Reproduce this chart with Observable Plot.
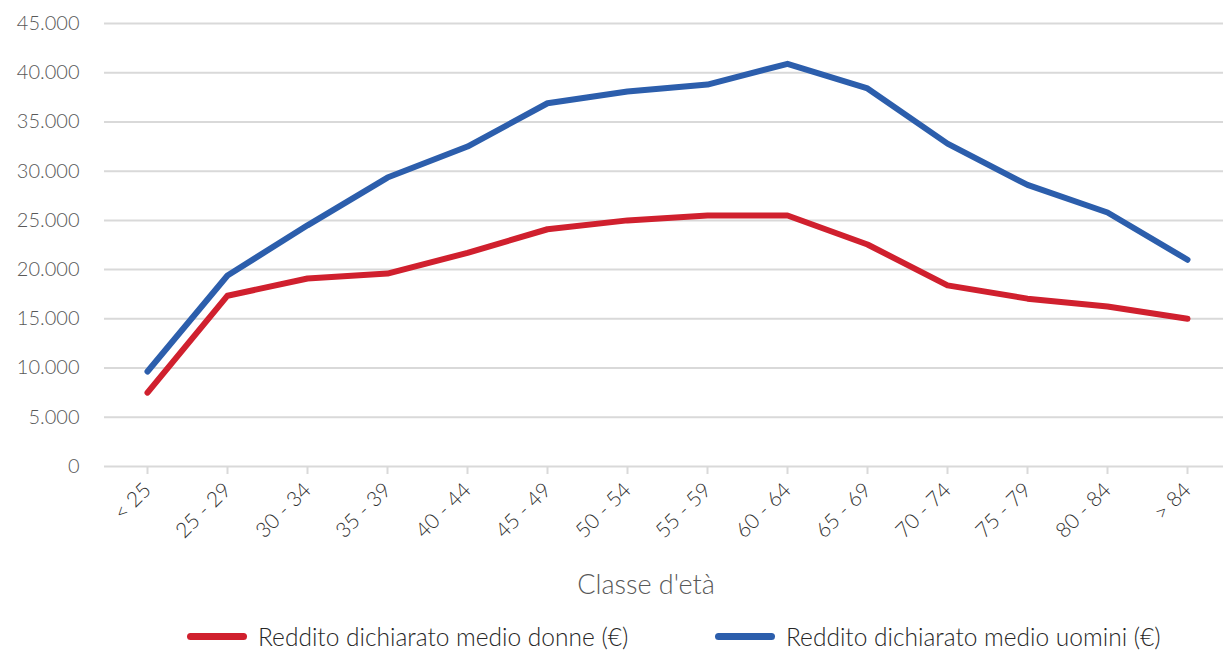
<!DOCTYPE html>
<html>
<head>
<meta charset="utf-8">
<script src="https://cdn.jsdelivr.net/npm/d3@7"></script>
<script src="https://cdn.jsdelivr.net/npm/@observablehq/plot@0.6"></script>
<style>
  html, body { margin: 0; padding: 0; background: #fff; }
  body { font-family: "Source Sans Pro", Lato, "Open Sans", sans-serif; font-weight: 300; }
  #wrap { position: relative; width: 1223px; height: 654px; overflow: hidden; }
  #legend { position: relative; height: 36px; }
  .item { position: absolute; top: 0; display: flex; align-items: center; height: 36px; font-size: 24.5px; color: #262626; }
  .sw { display: inline-block; width: 60px; height: 7px; border-radius: 4px; margin-right: 11px; }
</style>
</head>
<body>
<div id="wrap">
  <div id="chart"></div>
  <div id="legend"></div>
</div>
<script>
const ages = ["< 25", "25 - 29", "30 - 34", "35 - 39", "40 - 44", "45 - 49", "50 - 54", "55 - 59", "60 - 64", "65 - 69", "70 - 74", "75 - 79", "80 - 84", "> 84"];
const donne = [7500, 17350, 19100, 19600, 21700, 24100, 25000, 25500, 25500, 22550, 18400, 17050, 16250, 15000];
const uomini = [9650, 19400, 24500, 29350, 32500, 36900, 38100, 38800, 40900, 38400, 32800, 28600, 25800, 21000];
const yTicks = [0, 5000, 10000, 15000, 20000, 25000, 30000, 35000, 40000, 45000];
const seriesNames = ["Reddito dichiarato medio donne (€)", "Reddito dichiarato medio uomini (€)"];
const seriesColors = ["#d0202e", "#2c5eac"];
const xTitle = "Classe d'età";

const it = d3.formatLocale({decimal: ",", thousands: ".", grouping: [3], currency: ["€", ""]});
const fmt = it.format(",");

const rows = [];
ages.forEach((a, i) => {
  rows.push({age: a, value: donne[i], serie: seriesNames[0]});
  rows.push({age: a, value: uomini[i], serie: seriesNames[1]});
});

const font = '"Source Sans Pro", Lato, "Open Sans", sans-serif';

const chart = Plot.plot({
  width: 1223,
  height: 618,
  marginTop: 23,
  marginBottom: 152,
  marginLeft: 104,
  marginRight: 0,
  style: {fontFamily: font, fontWeight: 300, background: "transparent"},
  x: {type: "point", domain: ages, range: [144, 1190], padding: 0},
  y: {domain: [0, 45000]},
  color: {domain: seriesNames, range: seriesColors},
  marks: [
    Plot.gridY(yTicks, {stroke: "#d9d9d9", strokeWidth: 2, strokeOpacity: 1}),
    Plot.axisY(yTicks, {tickSize: 0, tickPadding: 25, tickFormat: fmt, fontSize: 20, fill: "#595959", label: null}),
    Plot.axisX(ages, {tickSize: 8, stroke: "#d9d9d9", strokeWidth: 2, tickRotate: -45, tickPadding: 12, fontSize: 21, fill: "#333333", label: null}),
    Plot.lineY(rows, {x: "age", y: "value", stroke: "serie", strokeWidth: 6, strokeLinecap: "round", strokeLinejoin: "round"}),
    Plot.text([xTitle], {text: d => d, frameAnchor: "bottom", dy: 127, dx: -18, fontSize: 27, fill: "#595959"})
  ]
});
document.getElementById("chart").appendChild(chart);

const legend = document.getElementById("legend");
const lefts = [187, 715];
seriesNames.forEach((n, i) => {
  const it = document.createElement("div");
  it.className = "item";
  it.style.left = lefts[i] + "px";
  const sw = document.createElement("span");
  sw.className = "sw";
  sw.style.background = seriesColors[i];
  const t = document.createElement("span");
  t.textContent = n;
  it.appendChild(sw);
  it.appendChild(t);
  legend.appendChild(it);
});
</script>
</body>
</html>
